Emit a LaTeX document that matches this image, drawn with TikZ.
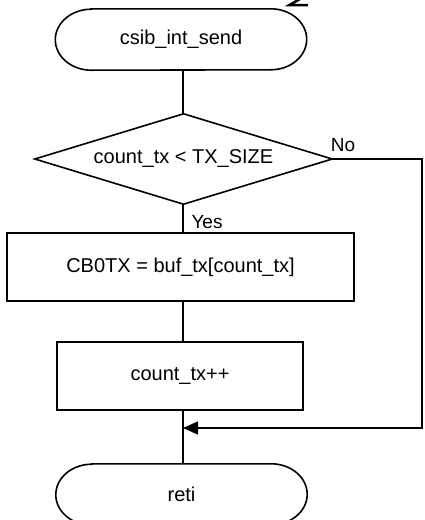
\documentclass[tikz,border=0pt]{standalone}
\usepackage{fontspec}
\setmainfont{Liberation Sans}
\usetikzlibrary{arrows.meta,calc}

\tikzset{
  flowline/.style={line width=1.6pt},
  procbox/.style={draw, line width=1.6pt, rectangle, inner sep=0pt, font=\fontsize{20}{24}\selectfont},
  termbox/.style={rectangle, inner sep=0pt, minimum width=251pt, minimum height=61pt, font=\fontsize{20}{24}\selectfont},
  decbox/.style={rectangle, inner sep=0pt, minimum width=297pt, minimum height=90pt, font=\fontsize{20}{24}\selectfont},
  branchlabel/.style={inner sep=0pt, font=\fontsize{19}{22}\selectfont},
  looptip/.style={-{Triangle[length=15pt,width=13pt]}}
}

% stadium outline around a terminator node
\newcommand{\termoutline}[1]{%
  \draw[flowline] ([xshift=36pt]#1.north west) -- ([xshift=-36pt]#1.north east)
    arc[start angle=90,end angle=-90,x radius=36pt,y radius=30.5pt]
    -- ([xshift=36pt]#1.south west)
    arc[start angle=270,end angle=90,x radius=36pt,y radius=30.5pt] -- cycle;}

\begin{document}
\begin{tikzpicture}[x=1pt,y=-1pt]
  \useasboundingbox (0,0) rectangle (425,520);

  % terminators, decision and process steps
  \node[termbox] (start) at (181,39.5) {csib\_int\_send};
  \termoutline{start}

  \node[decbox] (dec) at (183.5,159) {count\_tx < TX\_SIZE};
  \draw[flowline] (dec.west) -- (dec.north) -- (dec.east) -- (dec.south) -- cycle;

  \node[procbox, minimum width=347pt, minimum height=68pt] (send) at (180.5,267) {CB0TX = buf\_tx[count\_tx]};
  \node[procbox, minimum width=246pt, minimum height=68pt] (inc) at (180,376) {count\_tx++};

  \node[termbox] (ret) at (181.5,494.5) {reti};
  \termoutline{ret}

  % main flow
  \coordinate (spine) at (183,0);
  \draw[flowline] (spine |- start.south) -- (spine |- dec.north);
  \draw[flowline] (spine |- dec.south) -- (spine |- send.north);
  \draw[flowline] (spine |- send.south) -- (spine |- inc.north);
  \draw[flowline] (spine |- inc.south) -- (spine |- ret.north);

  % "No" branch looping back to the return
  \coordinate (merge) at (183,428);
  \coordinate (rightrail) at (422,0);
  \draw[flowline, looptip] (dec.east) -- (rightrail |- dec.east) -- (rightrail |- merge) -- (merge);

  \node[branchlabel] (nolabel) at (343,145) {No};
  \node[branchlabel] (yeslabel) at (207,222) {Yes};

  % stroke at the top edge
  \draw[line width=2.5pt] (300,-1) -- (289.5,5) -- (308,5);
\end{tikzpicture}
\end{document}
